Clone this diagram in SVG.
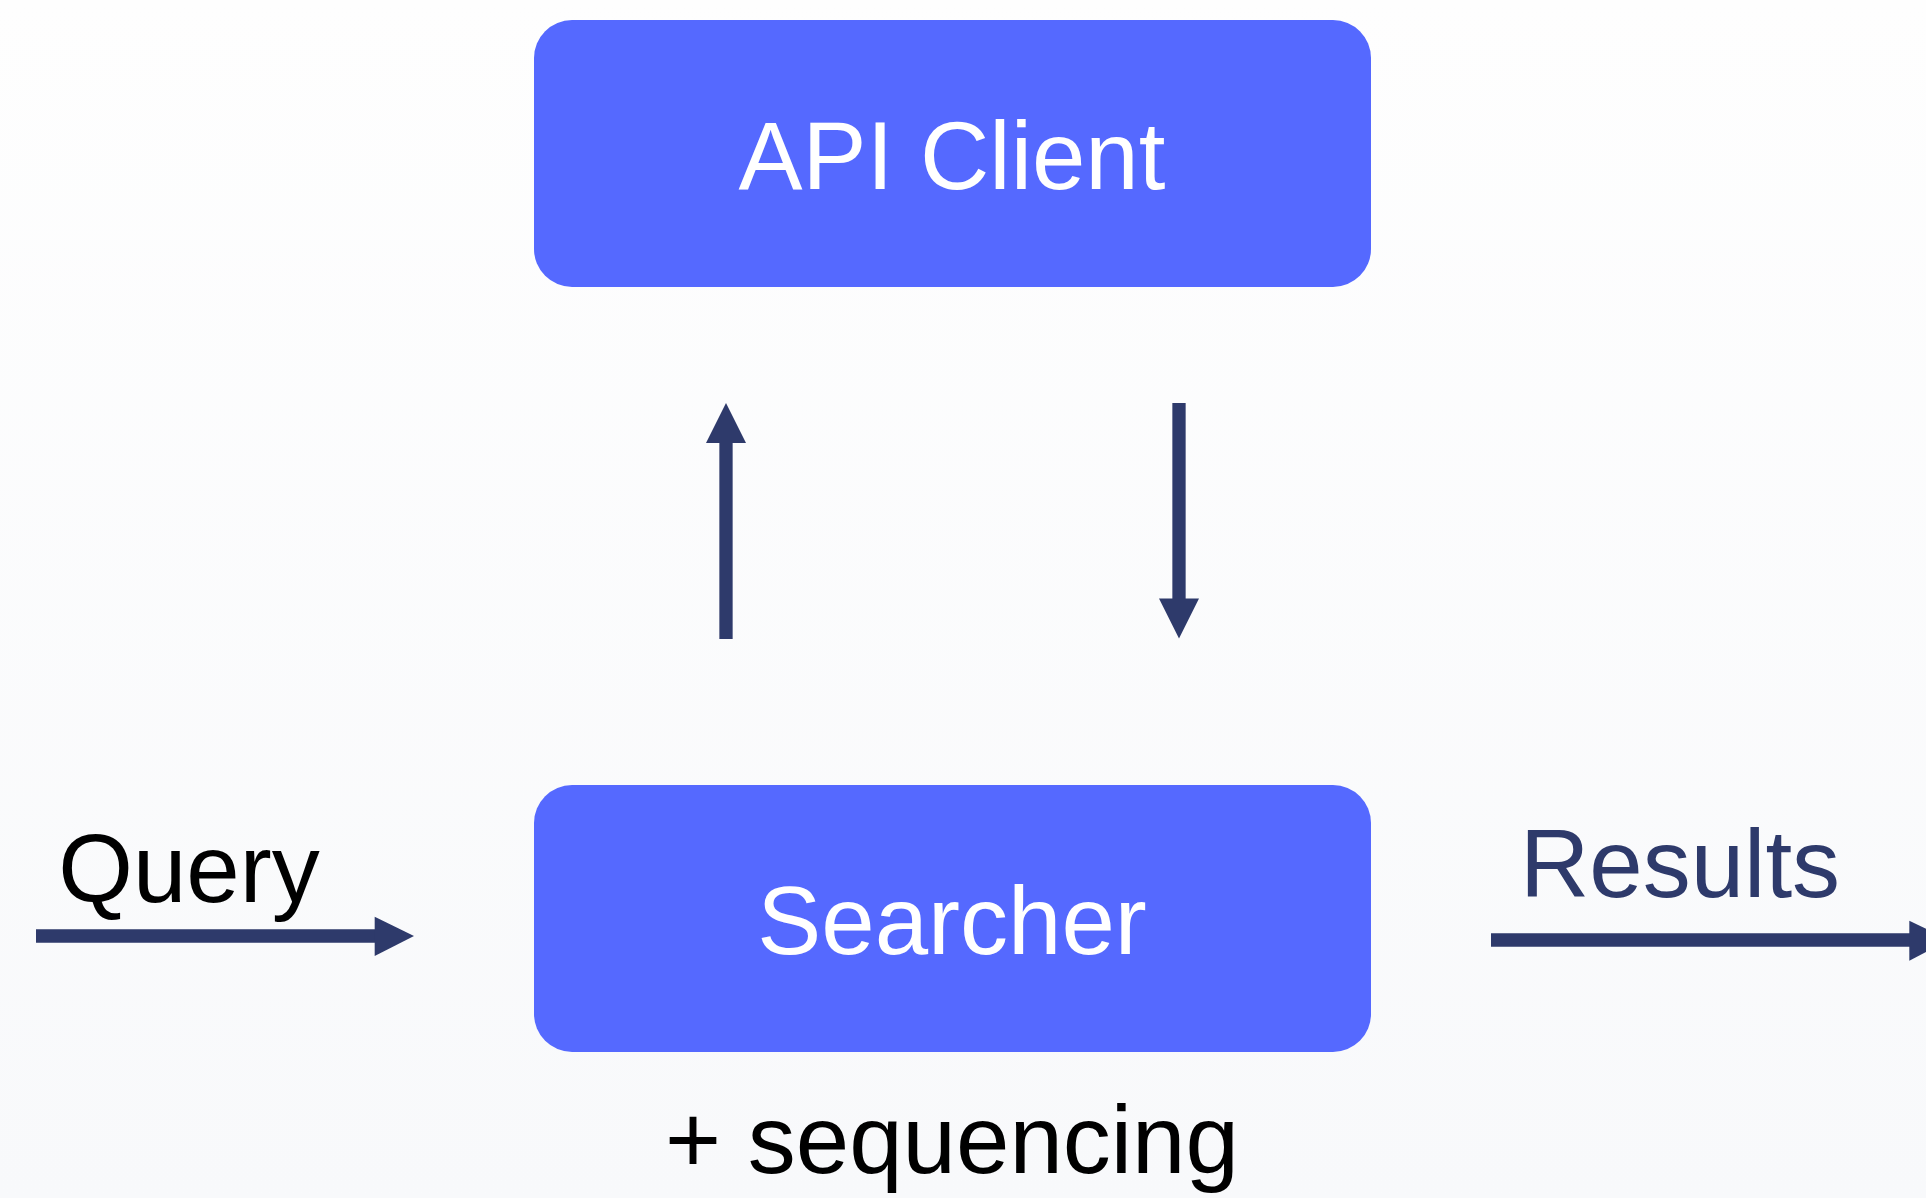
<svg xmlns="http://www.w3.org/2000/svg" width="1926" height="1198" viewBox="0 0 1926 1198">
<defs>
<linearGradient id="bg" x1="0" y1="0" x2="0" y2="1">
<stop offset="0" stop-color="#fefefe"/>
<stop offset="1" stop-color="#f8f9fb"/>
</linearGradient>
</defs>
<style>
.box{fill:#5569ff}
.lbl{font-family:"Liberation Sans",Arial,sans-serif;font-size:96px}
.w{fill:#ffffff}
.k{fill:#000000}
.n{fill:#2e3a6b}
.sh{stroke:#2e3a6b;stroke-width:13.3;fill:none}
.hd{fill:#2e3a6b}
</style>
<rect x="0" y="0" width="1926" height="1198" fill="url(#bg)"/>
<g id="api-client">
<rect class="box" x="534" y="20" width="837" height="267" rx="38" ry="38"/>
<text class="lbl w" x="952" y="189" text-anchor="middle">API Client</text>
</g>
<g id="searcher">
<rect class="box" x="534" y="785" width="837" height="267" rx="38" ry="38"/>
<text class="lbl w" x="952" y="954" text-anchor="middle">Searcher</text>
<text class="lbl k" x="952" y="1173" text-anchor="middle">+ sequencing</text>
</g>
<g id="query">
<text class="lbl k" x="189" y="902" text-anchor="middle">Query</text>
</g>
<g id="results">
<text class="lbl n" x="1680" y="897" text-anchor="middle">Results</text>
</g>
<g id="connectors">
<line class="sh" x1="726" y1="639" x2="726" y2="441"/>
<polygon class="hd" points="726,403 746,443 706,443"/>
<line class="sh" x1="1179" y1="403" x2="1179" y2="600"/>
<polygon class="hd" points="1179,638.5 1199,598.5 1159,598.5"/>
<line class="sh" x1="36" y1="936" x2="376" y2="936"/>
<polygon class="hd" points="414,936 374.7,916.7 374.7,956"/>
<line class="sh" x1="1491" y1="940" x2="1911" y2="940"/>
<polygon class="hd" points="1949,940 1909.3,920.7 1909.3,960.7"/>
</g>
</svg>
